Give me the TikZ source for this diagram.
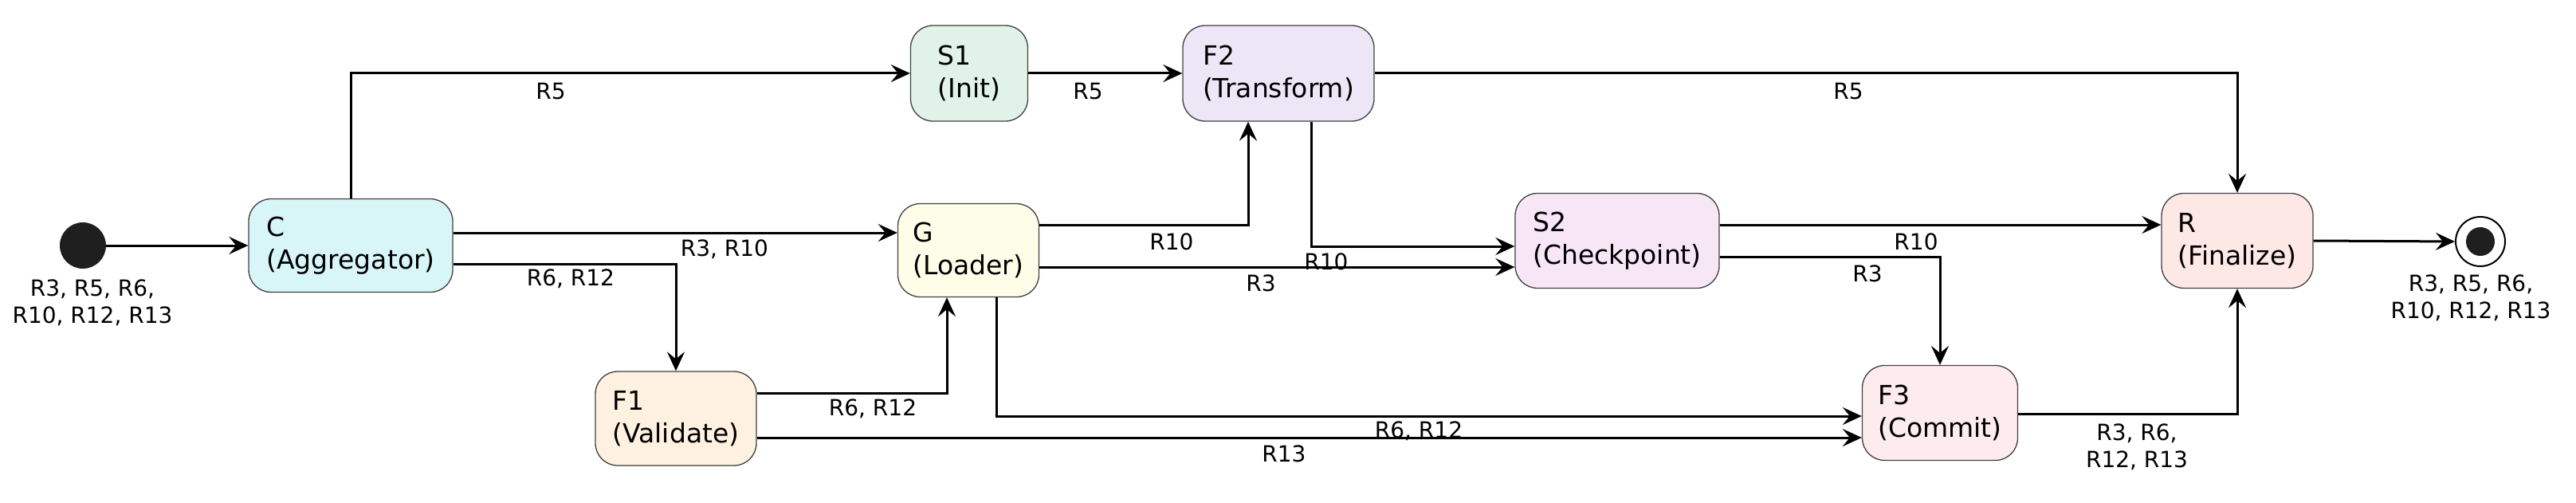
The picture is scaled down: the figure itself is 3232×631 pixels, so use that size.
\documentclass[tikz,border=0pt]{standalone}
\usepackage{fontspec}
\setmainfont{DejaVu Sans}
\usetikzlibrary{arrows.meta}
\begin{document}
\begin{tikzpicture}[x=1pt,y=1pt,
  st/.style={draw=black!75,line width=1.3pt,rounded corners=28pt,align=left,font=\fontsize{33}{41}\selectfont,inner sep=0pt},
  arr/.style={line width=3pt,-{Stealth[length=24pt,width=22pt,inset=9pt]}},
  lbl/.style={font=\fontsize{28}{34}\selectfont,inner sep=0pt,align=center}]
\useasboundingbox (0,0) rectangle (3232,-631);
\node[circle,fill=black!88,minimum size=58pt,inner sep=0pt] (start) at (104,-308) {};
\node[lbl] (startl) at (116,-380) {R3, R5, R6,\\R10, R12, R13};
\node[st,fill={rgb,255:red,216;green,245;blue,248},minimum width=256pt,minimum height=117pt] (C) at (440,-308) {C\\(Aggregator)};
\node[st,fill={rgb,255:red,225;green,243;blue,232},minimum width=147pt,minimum height=120pt] (S1) at (1216,-92) {S1\\(Init)};
\node[st,fill={rgb,255:red,237;green,230;blue,246},minimum width=240pt,minimum height=120pt] (F2) at (1604,-92) {F2\\(Transform)};
\node[st,fill={rgb,255:red,254;green,253;blue,232},minimum width=177pt,minimum height=117pt] (G) at (1215,-314) {G\\(Loader)};
\node[st,fill={rgb,255:red,246;green,230;blue,246},minimum width=256pt,minimum height=119pt] (S2) at (2029,-302) {S2\\(Checkpoint)};
\node[st,fill={rgb,255:red,254;green,241;blue,224},minimum width=202pt,minimum height=118pt] (F1) at (848,-525) {F1\\(Validate)};
\node[st,fill={rgb,255:red,253;green,235;blue,238},minimum width=195pt,minimum height=119pt] (F3) at (2434,-518) {F3\\(Commit)};
\node[st,fill={rgb,255:red,253;green,232;blue,230},minimum width=190pt,minimum height=119pt] (R) at (2807,-302) {R\\(Finalize)};
\node[circle,draw=black,line width=2pt,fill=white,minimum size=62pt,inner sep=0pt] (end) at (3112,-303) {};
\node[circle,fill=black!88,minimum size=36pt,inner sep=0pt] (endin) at (end) {};
\node[lbl] (endl) at (3100,-374) {R3, R5, R6,\\R10, R12, R13};

\draw[arr] (start) -- (C.west);
\draw[arr] (C.north) |- (S1.west);
\draw[arr] ([yshift=16pt]C.east) -- ([yshift=22pt]G.west);
\draw[arr] ([yshift=-23pt]C.east) -| (F1.north);
\draw[arr] ([yshift=32pt]F1.east) -| ([xshift=-27pt]G.south);
\draw[arr] ([yshift=-24pt]F1.east) -- ([yshift=-31pt]F3.west);
\draw[arr] (S1.east) -- (F2.west);
\draw[arr] (F2.east) -| (R.north);
\draw[arr] ([yshift=32pt]G.east) -| ([xshift=-38pt]F2.south);
\draw[arr] ([xshift=41pt]F2.south) |- ([yshift=-7pt]S2.west);
\draw[arr] ([yshift=-21pt]G.east) -- ([yshift=-33pt]S2.west);
\draw[arr] ([xshift=35pt]G.south) |- ([yshift=-4pt]F3.west);
\draw[arr] ([yshift=20pt]S2.east) -- ([yshift=20pt]R.west);
\draw[arr] ([yshift=-20pt]S2.east) -| (F3.north);
\draw[arr] ([yshift=-1pt]F3.east) -| (R.south);
\draw[arr] (R.east) -- (end.west);

\node[lbl] (l1) at (691,-114) {R5};
\node[lbl] (l2) at (909,-313) {R3, R10};
\node[lbl] (l3) at (716,-350) {R6, R12};
\node[lbl] (l4) at (1365,-114) {R5};
\node[lbl] (l5) at (1470,-303) {R10};
\node[lbl] (l6) at (1664,-328) {R10};
\node[lbl] (l7) at (1582,-355) {R3};
\node[lbl] (l8) at (1095,-513) {R6, R12};
\node[lbl] (l9) at (1780,-541) {R6, R12};
\node[lbl] (l10) at (1611,-569) {R13};
\node[lbl] (l11) at (2319,-114) {R5};
\node[lbl] (l12) at (2404,-303) {R10};
\node[lbl] (l13) at (2343,-343) {R3};
\node[lbl] (l14) at (2681,-561) {R3, R6,\\R12, R13};
\end{tikzpicture}
\end{document}
